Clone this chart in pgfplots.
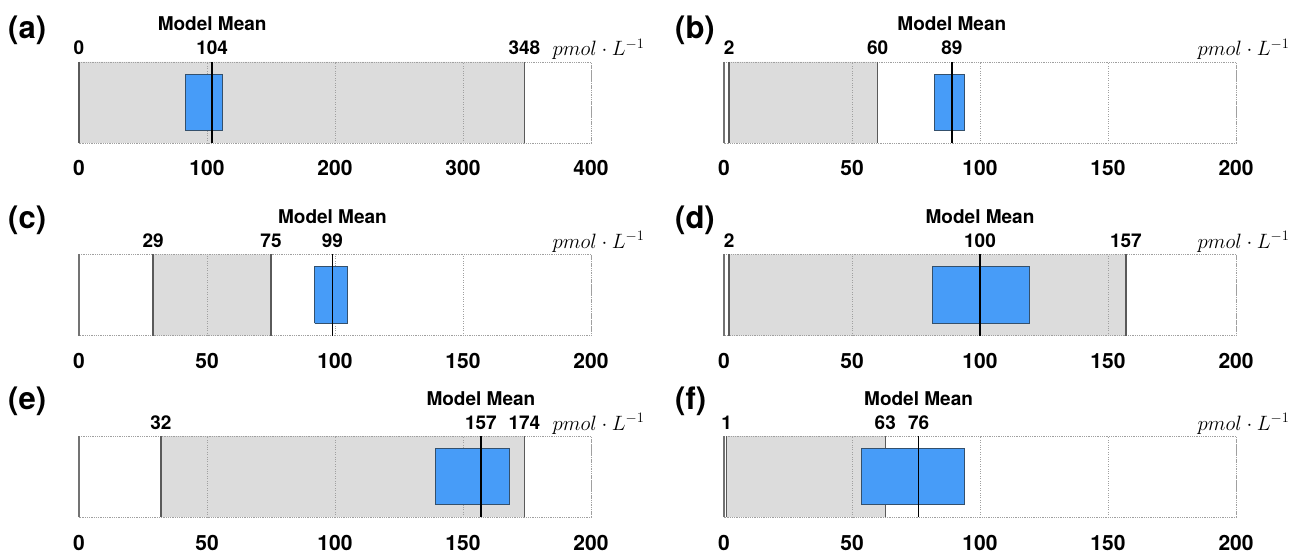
\documentclass[border=0pt]{standalone}
\usepackage{fontspec}
\setmainfont{TeX Gyre Heros}
\usepackage{pgfplots}
\pgfplotsset{compat=1.18}

\definecolor{rangefill}{HTML}{DCDCDC}
\definecolor{boxblue}{HTML}{479CF8}
\definecolor{boxedge}{HTML}{34506C}
\definecolor{rangeline}{HTML}{5A5A5A}
\definecolor{framegray}{HTML}{A0A0A0}

\pgfplotsset{
  panel/.style={
    anchor=south west,
    scale only axis, width=512pt, height=81pt,
    xmin=0, ymin=0, ymax=1, ytick=\empty,
    clip=false, set layers,
    axis line style={draw=framegray, densely dotted, line width=0.8pt},
    xmajorgrids, major grid style={draw=framegray, dotted, line width=0.7pt},
    major tick length=0pt,
    /pgf/number format/assume math mode=true,
    x tick label style={font=\fontsize{21}{21}\selectfont\bfseries, anchor=base, yshift=-33pt},
  },
}

% lo, hi, box left, box right, mean
\newcommand{\panelbody}[5]{%
  \addplot[on layer=axis background, fill=rangefill, draw=none] coordinates {(#1,0) (#2,0) (#2,1) (#1,1) (#1,0)};
  \addplot[rangeline!85, line width=1.4pt] coordinates {(0,0) (0,1)};
  \addplot[rangeline, line width=1.5pt] coordinates {(#1,0) (#1,1)};
  \addplot[rangeline, line width=1.5pt] coordinates {(#2,0) (#2,1)};
  \addplot[fill=boxblue, draw=boxedge, line width=0.9pt] coordinates {(#3,0.15) (#4,0.15) (#4,0.85) (#3,0.85) (#3,0.15)};
  \addplot[black, line width=1.7pt] coordinates {(#5,0) (#5,1)};
  \node[anchor=base, font=\fontsize{19}{19}\selectfont\bfseries] at (axis cs:#1,1) [yshift=7pt] {#1};
  \node[anchor=base, font=\fontsize{19}{19}\selectfont\bfseries] at (axis cs:#2,1) [yshift=7pt] {#2};
  \node[anchor=base, font=\fontsize{19}{19}\selectfont\bfseries] at (axis cs:#5,1) [yshift=7pt] {#5};
  \node[anchor=base, font=\fontsize{19}{19}\selectfont\bfseries] at (axis cs:#5,1) [yshift=31pt] {Model Mean};
  \node[anchor=base east, font=\fontsize{21}{21}\selectfont] at (rel axis cs:1,1) [xshift=57pt, yshift=6pt] {$pmol\cdot L^{-1}$};
}

\begin{document}
\begin{tikzpicture}

\begin{axis}[panel, at={(79pt,-143pt)}, xmax=400, xtick={0,100,...,400}]
\panelbody{0}{348}{83.4}{112.3}{104}
\end{axis}
\begin{axis}[panel, at={(724pt,-143pt)}, xmax=200, xtick={0,50,...,200}]
\panelbody{2}{60}{82.1}{93.8}{89}
\end{axis}

\begin{axis}[panel, at={(79pt,-335.5pt)}, xmax=200, xtick={0,50,...,200}]
\panelbody{29}{75}{92}{104.8}{99}
\end{axis}
\begin{axis}[panel, at={(724pt,-335.5pt)}, xmax=200, xtick={0,50,...,200}]
\panelbody{2}{157}{81.3}{119.3}{100}
\end{axis}

\begin{axis}[panel, at={(79pt,-517pt)}, xmax=200, xtick={0,50,...,200}]
\panelbody{32}{174}{139.3}{168.1}{157}
\end{axis}
\begin{axis}[panel, at={(724pt,-517pt)}, xmax=200, xtick={0,50,...,200}]
\panelbody{1}{63}{53.6}{93.8}{76}
\end{axis}

\begin{scope}[every node/.style={anchor=base west, font=\fontsize{31}{31}\selectfont\bfseries, inner sep=0pt}]
\node at (8pt,-39pt) {(a)};
\node at (675pt,-39pt) {(b)};
\node at (8pt,-229pt) {(c)};
\node at (675pt,-229pt) {(d)};
\node at (8pt,-409pt) {(e)};
\node at (675pt,-409pt) {(f)};
\end{scope}

\pgfresetboundingbox
\path[use as bounding box] (0pt,0pt) rectangle (1301pt,-553pt);
\end{tikzpicture}
\end{document}
